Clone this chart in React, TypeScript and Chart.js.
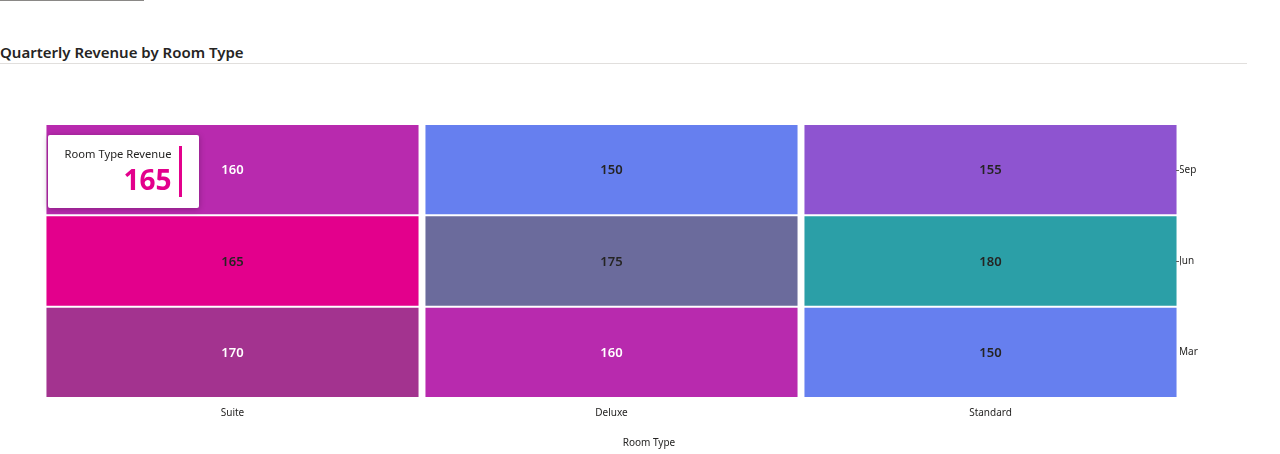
import React, { useEffect, useRef } from "react";
import { Chart, registerables } from "chart.js";

Chart.register(...registerables);

const roomTypes = ["Suite", "Deluxe", "Standard"];
const months = ["Mar", "Jun", "Sep"]; // bottom to top
const marRevenue = [170, 160, 150];
const junRevenue = [165, 175, 180];
const sepRevenue = [160, 150, 155];
const colorValues = [150, 155, 160, 165, 170, 175, 180];
const cellColors = ["#667FEF", "#8E54D0", "#B82AAE", "#E3008C", "#A3338F", "#6B6B9C", "#2B9FA7"];
const textColors = ["#252423", "#252423", "#FFFFFF", "#252423", "#FFFFFF", "#252423", "#252423"];
const tooltipRoom = "Suite";
const tooltipMonth = "Jun";
const xAxisTitle = "Room Type";

const FONT = '"Segoe UI", "Noto Sans", sans-serif';

export default function App() {
  const canvasRef = useRef<HTMLCanvasElement | null>(null);
  const tipRef = useRef<HTMLDivElement | null>(null);

  useEffect(() => {
    document.body.style.margin = "0";
    const series = [marRevenue, junRevenue, sepRevenue];
    const datasets = months.map((m, r) => ({
      label: m,
      data: series[r].map(() => [r, r + 1]),
      values: series[r],
      backgroundColor: series[r].map((v) => cellColors[colorValues.indexOf(v)]),
      borderColor: "#FFFFFF",
      borderWidth: 1,
      borderSkipped: false,
      grouped: false,
      categoryPercentage: 0.987,
      barPercentage: 1,
    }));

    const labelPlugin = {
      id: "cellLabels",
      afterDatasetsDraw(chart: any) {
        const ctx = chart.ctx;
        ctx.save();
        ctx.font = `600 13px ${FONT}`;
        ctx.textAlign = "center";
        ctx.textBaseline = "middle";
        chart.data.datasets.forEach((ds: any, di: number) => {
          const meta = chart.getDatasetMeta(di);
          meta.data.forEach((el: any, i: number) => {
            const v = ds.values[i];
            ctx.fillStyle = textColors[colorValues.indexOf(v)];
            const cy = (el.y + el.base) / 2 + 1;
            ctx.fillText(String(v), el.x, cy);
          });
        });
        ctx.restore();
      },
      afterDraw(chart: any) {
        const ctx = chart.ctx;
        const ys = chart.scales.y;
        const ca = chart.chartArea;
        ctx.save();
        ctx.strokeStyle = "#605E5C";
        ctx.lineWidth = 1;
        months.forEach((m, i) => {
          if (i === 0) return;
          const py = Math.round(ys.getPixelForValue(i + 0.5)) + 0.5;
          ctx.beginPath();
          ctx.moveTo(ca.right - 4, py);
          ctx.lineTo(ca.right - 1, py);
          ctx.stroke();
        });
        ctx.fillStyle = "#252423";
        ctx.font = `10px ${FONT}`;
        ctx.textAlign = "center";
        ctx.textBaseline = "middle";
        ctx.fillText(xAxisTitle, (ca.left + chart.width) / 2 + 4, chart.height - 11);
        ctx.restore();
      },
    };

    const chart = new Chart(canvasRef.current!, {
      type: "bar",
      data: { labels: roomTypes, datasets: datasets as any },
      plugins: [labelPlugin],
      options: {
        animation: false,
        responsive: false,
        maintainAspectRatio: false,
        layout: { padding: { left: 43, right: 27, top: 60, bottom: 0 } },
        plugins: { legend: { display: false }, tooltip: { enabled: false } },
        scales: {
          x: {
            type: "category",
            grid: { display: false, drawTicks: false },
            border: { display: false },
            ticks: { color: "#252423", font: { family: FONT, size: 10 }, padding: 9 },
            afterFit: (s: any) => {
              s.height = 56;
            },
          },
          y: {
            type: "linear",
            position: "right",
            min: 0,
            max: 3,
            grid: { display: false, drawTicks: false },
            border: { display: false },
            afterBuildTicks: (s: any) => {
              s.ticks = months.map((_, i) => ({ value: i + 0.5 }));
            },
            ticks: {
              color: "#252423",
              font: { family: FONT, size: 10 },
              padding: -1,
              callback: (v: any) => months[Math.floor(Number(v))],
            },
            afterFit: (s: any) => {
              s.width = 40;
            },
          },
        },
      },
    });

    const di = months.indexOf(tooltipMonth);
    const ci = roomTypes.indexOf(tooltipRoom);
    const el: any = chart.getDatasetMeta(di).data[ci];
    const tip = tipRef.current!;
    const left = el.x - el.width / 2 + 3;
    const top = Math.min(el.y, el.base) - 8 - 73;
    tip.style.left = `${left}px`;
    tip.style.top = `${64 + top + 1}px`;
    tip.style.display = "flex";
    const val = series[di][ci];
    const vEl = tip.querySelector(".tip-value") as HTMLDivElement;
    vEl.textContent = String(val);
    const col = cellColors[colorValues.indexOf(val)];
    vEl.style.color = col;
    (tip.querySelector(".tip-bar") as HTMLDivElement).style.background = col;

    return () => chart.destroy();
  }, []);

  return (
    <div style={{ position: "relative", width: 1280, height: 454, fontFamily: FONT, overflow: "hidden" }}>
      <div style={{ position: "absolute", left: 0, top: 0, width: 144, height: 1, background: "#8A8886" }} />
      <div
        style={{
          position: "absolute",
          left: 0,
          top: 42,
          fontSize: 15,
          lineHeight: "20px",
          fontWeight: 600,
          color: "#252423",
          whiteSpace: "nowrap",
        }}
      >
        Quarterly Revenue by Room Type
      </div>
      <div style={{ position: "absolute", left: 0, top: 63, width: 1247, height: 1, background: "#E1DFDD" }} />
      <div style={{ position: "absolute", left: 0, top: 64, width: 1247, height: 390 }}>
        <canvas ref={canvasRef} width={1247} height={390} style={{ width: 1247, height: 390, display: "block" }} />
      </div>
      <div
        ref={tipRef}
        style={{
          position: "absolute",
          display: "none",
          width: 151,
          height: 73,
          boxSizing: "border-box",
          background: "#FFFFFF",
          boxShadow: "0 1px 6px rgba(0,0,0,0.28)",
          borderRadius: 2,
          padding: "11px 17px 11px 0",
          justifyContent: "flex-end",
          alignItems: "stretch",
        }}
      >
        <div style={{ display: "flex", flexDirection: "column", alignItems: "flex-end", marginRight: 8 }}>
          <div style={{ fontSize: 11.2, lineHeight: "16px", color: "#252423", whiteSpace: "nowrap" }}>Room Type Revenue</div>
          <div className="tip-value" style={{ fontSize: 28, lineHeight: "35px", fontWeight: 700 }} />
        </div>
        <div className="tip-bar" style={{ width: 3, height: 51 }} />
      </div>
    </div>
  );
}
